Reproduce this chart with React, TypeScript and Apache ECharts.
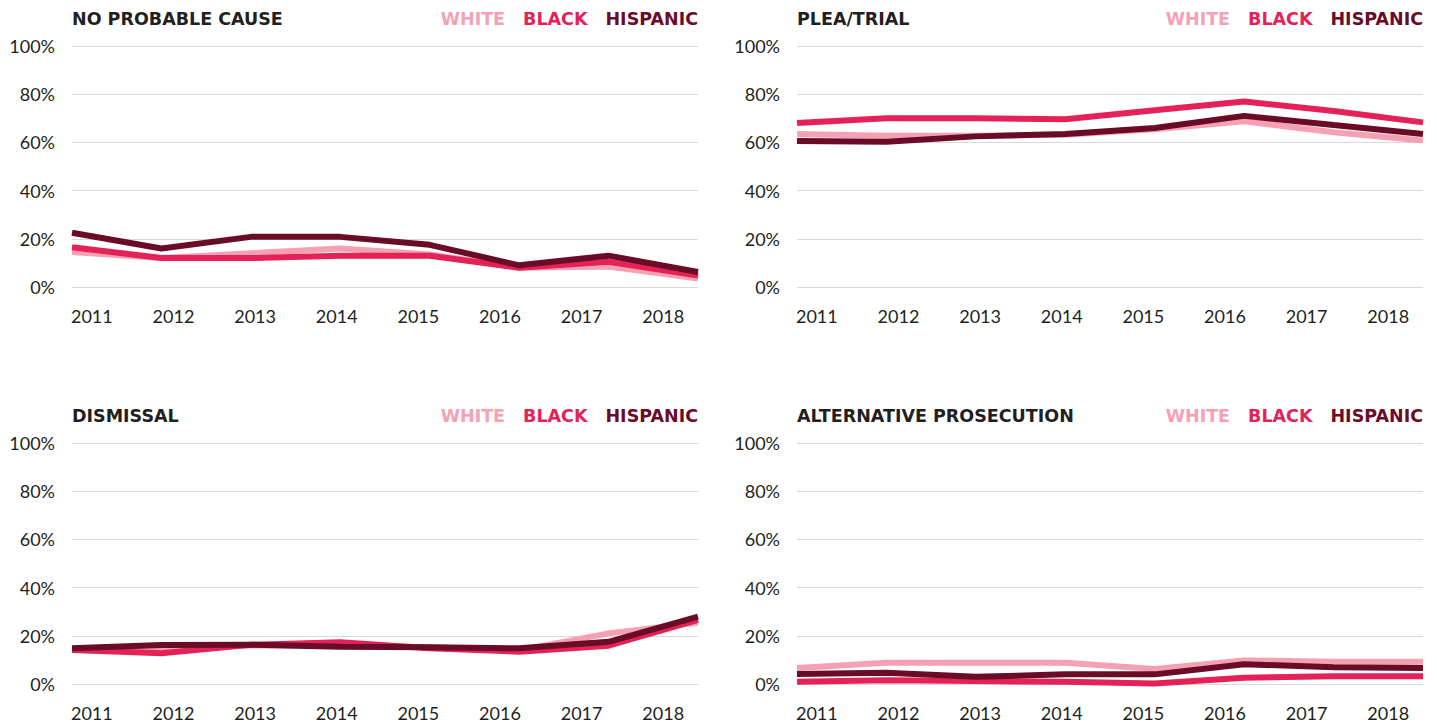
import React, { useEffect, useRef } from "react";
import * as echarts from "echarts";

const years = ["2011", "2012", "2013", "2014", "2015", "2016", "2017", "2018"];
const groups = ["WHITE", "BLACK", "HISPANIC"];
const groupColors = ["#f5a1b3", "#e42257", "#6a0b27"];
const panelTitles = ["NO PROBABLE CAUSE", "PLEA/TRIAL", "DISMISSAL", "ALTERNATIVE PROSECUTION"];

const noProbableCauseWhite = [14.5, 12, 14, 16, 13.5, 8, 8.5, 3.5];
const noProbableCauseBlack = [16.5, 12, 12, 13, 13, 8, 10.5, 4.8];
const noProbableCauseHispanic = [22.5, 16, 20.8, 20.8, 17.5, 9, 13, 6.2];

const pleaTrialWhite = [63.5, 62.8, 62.8, 63.2, 65.5, 68.8, 64.2, 60.8];
const pleaTrialBlack = [68, 70, 70, 69.6, 73.3, 77, 73, 68.3];
const pleaTrialHispanic = [60.6, 60.3, 62.5, 63.5, 66, 71, 67.2, 63.5];

const dismissalWhite = [14.2, 15, 16, 16, 15.2, 14, 21, 25.5];
const dismissalBlack = [14.1, 12.8, 16.3, 17.3, 14.8, 13.4, 15.9, 26.6];
const dismissalHispanic = [14.8, 16.2, 16.3, 15.5, 15.3, 14.8, 17.5, 28];

const altProsecutionWhite = [6.6, 8.8, 8.8, 8.8, 6.2, 9.8, 9.2, 9.2];
const altProsecutionBlack = [0.9, 1.6, 1.2, 0.9, 0.2, 2.6, 3.2, 3.2];
const altProsecutionHispanic = [4.1, 4.7, 3, 4, 4, 8.2, 7, 6.6];

const yTicks = [0, 20, 40, 60, 80, 100];

const panelData = [
  [noProbableCauseWhite, noProbableCauseBlack, noProbableCauseHispanic],
  [pleaTrialWhite, pleaTrialBlack, pleaTrialHispanic],
  [dismissalWhite, dismissalBlack, dismissalHispanic],
  [altProsecutionWhite, altProsecutionBlack, altProsecutionHispanic],
];

const TEXT = "#231f20";
const GRID = "#d9d9d9";
const TITLE_FONT = "'DejaVu Sans', sans-serif";
const LABEL_FONT = "Lato, sans-serif";

export default function App() {
  const ref = useRef<HTMLDivElement>(null);

  useEffect(() => {
    if (!ref.current) return;
    const chart = echarts.init(ref.current, undefined, { renderer: "svg" });

    const grids: any[] = [];
    const xAxes: any[] = [];
    const yAxes: any[] = [];
    const series: any[] = [];
    const titles: any[] = [];
    const legends: any[] = [];

    panelData.forEach((lines, p) => {
      const col = p % 2;
      const row = Math.floor(p / 2);
      const dx = col * 725;
      const dy = row * 397;
      const top = 46 + dy;

      grids.push({ left: 72 + dx, top, width: 626, height: 241, containLabel: false });
      grids.push({ left: 51 + dx, top, width: 653, height: 241, containLabel: false });

      const gi = p * 2;
      xAxes.push({
        type: "category",
        gridIndex: gi,
        data: years,
        boundaryGap: false,
        axisLine: { show: false },
        axisTick: { show: false },
        axisLabel: { show: false },
        splitLine: { show: false },
      });
      xAxes.push({
        type: "category",
        gridIndex: gi + 1,
        data: years,
        boundaryGap: true,
        axisLine: { show: false },
        axisTick: { show: false },
        axisLabel: {
          show: true,
          color: TEXT,
          fontFamily: LABEL_FONT,
          fontSize: 18,
          lineHeight: 18,
          margin: 20,
        },
        splitLine: { show: false },
      });
      yAxes.push({
        type: "value",
        gridIndex: gi,
        min: yTicks[0],
        max: yTicks[yTicks.length - 1],
        interval: 20,
        axisLine: { show: false },
        axisTick: { show: false },
        axisLabel: {
          color: TEXT,
          fontFamily: LABEL_FONT,
          fontSize: 18,
          margin: 17,
          formatter: (v: number) => `${v}%`,
        },
        splitLine: { lineStyle: { color: GRID, width: 1 } },
      });
      yAxes.push({
        type: "value",
        gridIndex: gi + 1,
        min: 0,
        max: 100,
        show: false,
        splitLine: { show: false },
      });

      lines.forEach((vals, s) => {
        series.push({
          type: "line",
          name: groups[s],
          xAxisIndex: gi,
          yAxisIndex: gi,
          data: vals,
          symbol: "none",
          lineStyle: { color: groupColors[s], width: 6 },
          itemStyle: { color: groupColors[s] },
          z: 2 + s,
        });
      });

      titles.push({
        text: panelTitles[p],
        left: 72 + dx - 5,
        top: 9 + dy - 5 + 1,
        textStyle: { color: TEXT, fontFamily: TITLE_FONT, fontWeight: "bold", fontSize: 17.5 },
      });

      legends.push({
        right: 1437 - 698 - dx - 5,
        top: 9 + dy - 5 + 1,
        icon: "none",
        itemWidth: 0,
        itemHeight: 0,
        itemGap: 13,
        selectedMode: false,
        data: groups.map((g, i) => ({
          name: g,
          textStyle: { color: groupColors[i], fontFamily: TITLE_FONT, fontWeight: "bold", fontSize: 17.5 },
        })),
      });
    });

    chart.setOption({
      animation: false,
      backgroundColor: "#ffffff",
      title: titles,
      legend: legends,
      grid: grids,
      xAxis: xAxes,
      yAxis: yAxes,
      series,
    });

    return () => chart.dispose();
  }, []);

  return (
    <div
      ref={ref}
      style={{ position: "absolute", left: 0, top: 0, width: 1437, height: 723, background: "#fff" }}
    />
  );
}
